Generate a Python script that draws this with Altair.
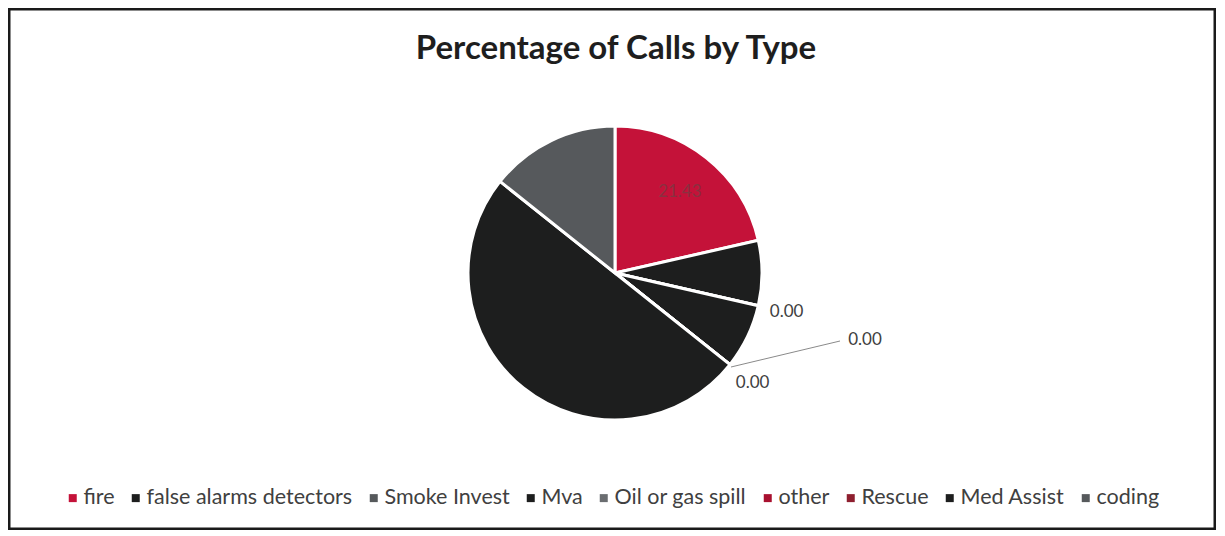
import altair as alt
import pandas as pd

# ---- data ----
types = ["fire", "false alarms detectors", "Smoke Invest", "Mva", "Oil or gas spill",
         "other", "Rescue", "Med Assist", "coding"]
pct = [21.43, 7.14, 0.00, 7.14, 0.00, 0.00, 0.00, 50.00, 14.29]
colors = ["#c41239", "#1d1e1e", "#56595c", "#1d1e1e", "#6a6d70",
          "#a8102f", "#8e1f2f", "#1d1e1e", "#56595c"]
inner_label = ["21.43", "", "", "", "", "", "", "", ""]
near_label = ["", "", "0.00", "", "0.00", "", "", "", ""]
far_label = ["", "", "", "", "", "0.00", "", "", ""]
title_text = "Percentage of Calls by Type"

df = pd.DataFrame({
    "type": types,
    "pct": pct,
    "idx": list(range(len(types))),
    "inner": inner_label,
    "near": near_label,
    "far": far_label,
})

W, H = 1208, 522
CX, CY = 607, 265

base = alt.Chart(df).encode(
    theta=alt.Theta("pct:Q", stack=True),
    order=alt.Order("idx:Q"),
)

pie = base.mark_arc(stroke="white", strokeWidth=3).encode(
    x=alt.value(CX), y=alt.value(CY),
    radius=alt.value(147),
    color=alt.Color(
        "type:N",
        scale=alt.Scale(domain=types, range=colors),
        sort=types,
        legend=alt.Legend(
            title=None, orient="none", direction="horizontal",
            legendX=54, legendY=479, columns=9,
            symbolType="square", symbolSize=64, symbolStrokeWidth=0,
            labelFont="Lato", labelFontSize=21.5, labelColor="#404040",
            labelOffset=0, columnPadding=10, labelLimit=400,
        ),
    ),
)

txt_inner = base.mark_text(font="Lato", fontSize=17, color="#8a3040").encode(
    x=alt.value(CX), y=alt.value(CY), radius=alt.value(104), text="inner:N")

txt_near = base.mark_text(font="Lato", fontSize=17, color="#404040").encode(
    x=alt.value(CX), y=alt.value(CY), radius=alt.value(176), text="near:N")

txt_far = base.mark_text(font="Lato", fontSize=17, color="#404040", dx=110, dy=-45).encode(
    x=alt.value(CX), y=alt.value(CY), radius=alt.value(179), text="far:N")

one = pd.DataFrame({"t": [title_text]})
leader = alt.Chart(one).mark_rule(color="#8a8a8a", strokeWidth=1).encode(
    x=alt.value(723), y=alt.value(359), x2=alt.value(832), y2=alt.value(333))

title = alt.Chart(one).mark_text(font="Lato", fontSize=33, fontWeight="bold",
                                 color="#1e1e1e").encode(
    x=alt.value(608), y=alt.value(41), text="t:N")

chart = alt.layer(pie, txt_inner, txt_near, txt_far, leader, title).properties(
    width=W, height=H, padding=0
).configure(
    background="white",
    view=alt.ViewConfig(stroke="#1a1a1a", strokeWidth=5),
)

chart.save("out.html", embed_options={"renderer": "svg", "actions": False})
